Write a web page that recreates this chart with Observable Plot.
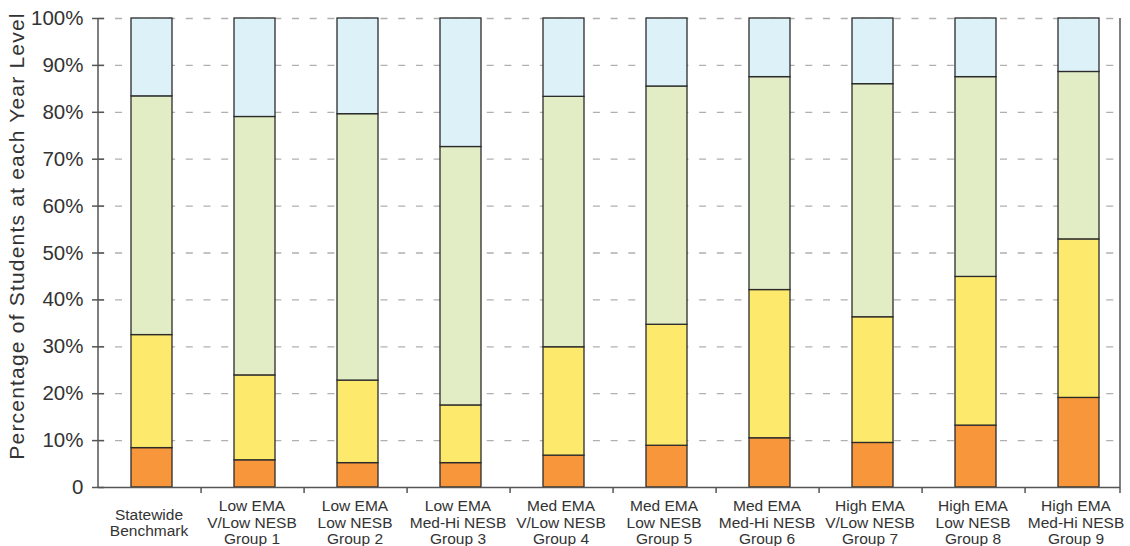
<!DOCTYPE html>
<html>
<head>
<meta charset="utf-8">
<script src="https://cdn.jsdelivr.net/npm/d3@7"></script>
<script src="https://cdn.jsdelivr.net/npm/@observablehq/plot@0.6"></script>
<style>
  body { margin: 0; background: #fff; }
  svg { display: block; }
</style>
</head>
<body>
<div id="chart"></div>
<script>
// ---- data ----
const groups = ["Statewide Benchmark", "Group 1", "Group 2", "Group 3", "Group 4",
                "Group 5", "Group 6", "Group 7", "Group 8", "Group 9"];
const groupLabels = [
  "Statewide\nBenchmark",
  "Low EMA\nV/Low NESB\nGroup 1",
  "Low EMA\nLow NESB\nGroup 2",
  "Low EMA\nMed-Hi NESB\nGroup 3",
  "Med EMA\nV/Low NESB\nGroup 4",
  "Med EMA\nLow NESB\nGroup 5",
  "Med EMA\nMed-Hi NESB\nGroup 6",
  "High EMA\nV/Low NESB\nGroup 7",
  "High EMA\nLow NESB\nGroup 8",
  "High EMA\nMed-Hi NESB\nGroup 9"
];
const seriesNames = ["Level A", "Level B", "Level C", "Level D"];
const levelA = [8.4, 5.8, 5.2, 5.2, 6.8, 8.9, 10.5, 9.5, 13.2, 19.1];
const levelB = [24.1, 18.1, 17.6, 12.3, 23.1, 25.8, 31.6, 26.8, 31.7, 33.8];
const levelC = [50.9, 55.1, 56.8, 55.1, 53.4, 50.8, 45.4, 49.7, 42.6, 35.7];
const levelD = [16.6, 21.0, 20.4, 27.4, 16.7, 14.5, 12.5, 14.0, 12.5, 11.4];
const seriesColors = ["#F7963A", "#FDE96B", "#E2EDC5", "#DDF1F8"];
const yTicks = [0, 10, 20, 30, 40, 50, 60, 70, 80, 90, 100];
const yTickLabels = ["0", "10%", "20%", "30%", "40%", "50%", "60%", "70%", "80%", "90%", "100%"];
const yLabel = "Percentage of Students at each Year Level";

// ---- table built from the arrays ----
const seriesValues = [levelA, levelB, levelC, levelD];
const rows = [];
groups.forEach((g, i) => {
  seriesNames.forEach((s, j) => rows.push({group: g, series: s, value: seriesValues[j][i]}));
});

const W = 1130, H = 546, ML = 98, MR = 10, MT = 18, MB = 59;
const pInner = 0.6;

function frameLines(index, scales, values, dims) {
  const {width, height, marginLeft, marginRight, marginTop, marginBottom} = dims;
  const left = marginLeft, right = width - marginRight, top = marginTop, bottom = height - marginBottom;
  const g = d3.create("svg:g").attr("stroke", "#555").attr("stroke-width", 1.5).attr("fill", "none");
  g.append("line").attr("x1", left).attr("x2", left).attr("y1", top).attr("y2", bottom);
  g.append("line").attr("x1", right).attr("x2", right).attr("y1", top).attr("y2", bottom + 6);
  const xs = scales.x;
  const starts = groups.map(d => xs(d));
  const step = starts[1] - starts[0];
  const bw = step * (1 - pInner);
  for (let i = 1; i < groups.length; i++) {
    const bx = (starts[i - 1] + starts[i]) / 2 + bw / 2 - 2;
    g.append("line").attr("x1", bx).attr("x2", bx).attr("y1", bottom).attr("y2", bottom + 6);
  }
  return g.node();
}

const chart = Plot.plot({
  width: W, height: H,
  marginLeft: ML, marginRight: MR, marginTop: MT, marginBottom: MB,
  style: {fontFamily: "'Liberation Sans', Arial, sans-serif", color: "#333", background: "#fff"},
  x: {domain: groups, range: [ML + 2, W], paddingInner: pInner, paddingOuter: pInner / 2},
  y: {domain: [0, 100]},
  color: {domain: seriesNames, range: seriesColors},
  marks: [
    Plot.ruleY(yTicks.slice(1), {stroke: "#b0b0b0", strokeWidth: 1.3, strokeDasharray: "7,10.7", strokeDashoffset: 0.7}),
    Plot.barY(rows, {x: "group", y: "value", fill: "series", stroke: "#2b2b2b", strokeWidth: 1.3}),
    Plot.ruleY([0], {stroke: "#555", strokeWidth: 1.5}),
    Plot.axisY({
      ticks: yTicks, tickFormat: d => yTickLabels[yTicks.indexOf(d)],
      tickSize: 0, tickPadding: 15, fontSize: 20.5, label: null
    }),
    Plot.text([yLabel], {
      text: d => d, frameAnchor: "left", rotate: -90, textAnchor: "middle", lineAnchor: "middle",
      dx: -81, dy: -17, fontSize: 21, fill: "#333"
    }),
    Plot.axisY({ticks: yTicks, tickSize: 12, dx: 6, fill: "none", stroke: "#555", strokeWidth: 1.5, label: null}),
    Plot.axisX({
      tickSize: 0, tickFormat: d => groupLabels[groups.indexOf(d)],
      lineAnchor: "middle", tickPadding: 35, fontSize: 15.5, lineHeight: 1.07, label: null, dx: -3
    }),
    frameLines
  ]
});
d3.select(chart).selectAll("text")
  .filter(function () { return this.textContent === yLabel; })
  .style("letter-spacing", "1.2px");
document.getElementById("chart").append(chart);
</script>
</body>
</html>
